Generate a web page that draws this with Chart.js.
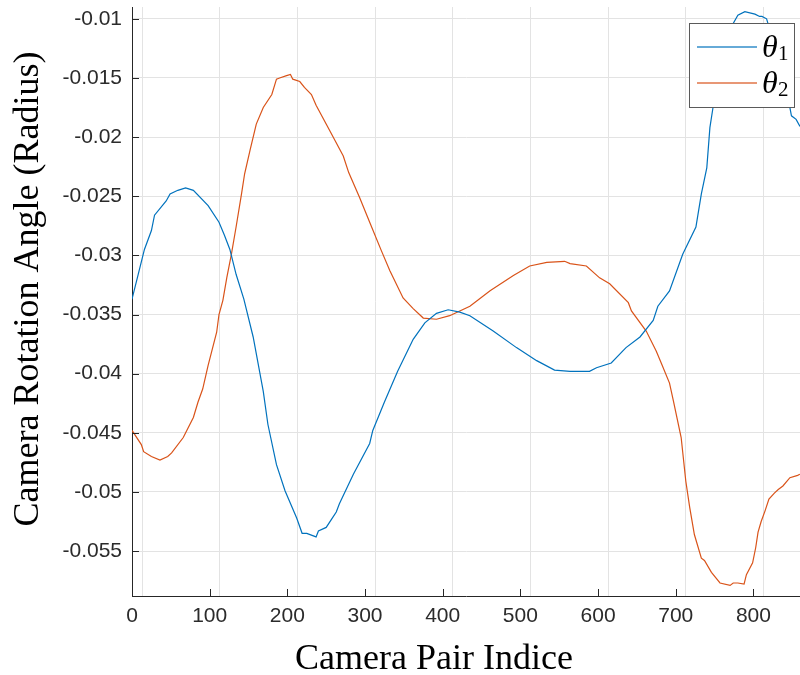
<!DOCTYPE html>
<html>
<head>
<meta charset="utf-8">
<title>Camera Rotation Angle</title>
<script src="https://cdn.jsdelivr.net/npm/chart.js@4.4.1/dist/chart.umd.min.js"></script>
<style>
    html, body { margin: 0; padding: 0; background: #fff; }
    #wrap { width: 800px; height: 675px; position: relative; }
</style>
</head>
<body>
<div id="wrap"><canvas id="myChart"></canvas></div>
<script>
// DATA
const seriesLabels = ['θ1', 'θ2'];
const seriesColors = ['#0072BD', '#D95319'];

const theta1X = [0, 8, 16, 25, 29, 44, 49, 59, 69, 79, 98, 112, 119, 126, 134, 144, 156, 169, 175, 186,
    197, 212, 219, 225, 237, 240, 250, 257, 263, 267, 285, 306, 310, 325, 342, 362, 377, 392, 407, 422,
    435, 465, 495, 521, 544, 564, 589, 598, 617, 636, 654, 671, 677, 692, 709, 726, 733, 740, 744, 748,
    754, 760, 767, 774, 780, 789, 802, 808, 811, 817, 825, 835, 842, 847, 849, 855, 860];
const theta1Y = [-0.0337, -0.0316, -0.0295, -0.0279, -0.0266, -0.0254, -0.0248, -0.0245, -0.0243, -0.0245,
    -0.0258, -0.0272, -0.0283, -0.0295, -0.0316, -0.0337, -0.0369, -0.0415, -0.0443, -0.0477,
    -0.0499, -0.0522, -0.0535, -0.0535, -0.0538, -0.0533, -0.0530, -0.0523, -0.0517, -0.0510,
    -0.0485, -0.0459, -0.0448, -0.0424, -0.0398, -0.0371, -0.0357, -0.0349, -0.0346, -0.0348,
    -0.0351, -0.0364, -0.0378, -0.0389, -0.0397, -0.0398, -0.0398, -0.0395, -0.0391, -0.0378,
    -0.0369, -0.0355, -0.0343, -0.0330, -0.0299, -0.0276, -0.0248, -0.0226, -0.0192, -0.0175,
    -0.0158, -0.0138, -0.0118, -0.0104, -0.0097, -0.0094, -0.0096, -0.0098, -0.0098, -0.0100,
    -0.0118, -0.0145, -0.0165, -0.0175, -0.0182, -0.0185, -0.0191];

const theta2X = [0, 12, 15, 25, 36, 46, 51, 66, 79, 85, 91, 98, 109, 112, 117, 122, 128, 134, 141, 145,
    152, 160, 169, 180, 186, 190, 199, 204, 207, 216, 222, 231, 237, 255, 272, 279, 293, 306, 321, 332,
    349, 362, 375, 392, 409, 435, 461, 491, 512, 534, 557, 564, 585, 602, 615, 639, 643, 662, 675, 682,
    692, 697, 707, 713, 718, 724, 733, 737, 746, 757, 770, 774, 780, 788, 791, 799, 803, 806, 810, 815,
    820, 827, 832, 838, 847, 857, 860];
const theta2Y = [-0.0448, -0.0460, -0.0466, -0.0470, -0.0473, -0.0470, -0.0467, -0.0454, -0.0437, -0.0424,
    -0.0413, -0.0393, -0.0365, -0.0350, -0.0338, -0.0319, -0.0299, -0.0276, -0.0248, -0.0231,
    -0.0211, -0.0189, -0.0175, -0.0164, -0.0151, -0.0150, -0.0148, -0.0147, -0.0151, -0.0153,
    -0.0158, -0.0164, -0.0173, -0.0195, -0.0216, -0.0230, -0.0251, -0.0272, -0.0296, -0.0313,
    -0.0336, -0.0345, -0.0353, -0.0354, -0.0351, -0.0343, -0.0330, -0.0317, -0.0309, -0.0306,
    -0.0305, -0.0307, -0.0309, -0.0319, -0.0324, -0.0340, -0.0347, -0.0364, -0.0381, -0.0392,
    -0.0408, -0.0423, -0.0454, -0.0491, -0.0513, -0.0536, -0.0556, -0.0558, -0.0568, -0.0577,
    -0.0579, -0.0577, -0.0577, -0.0578, -0.0570, -0.0560, -0.0547, -0.0534, -0.0525, -0.0516,
    -0.0506, -0.0501, -0.0498, -0.0495, -0.0488, -0.0486, -0.0485];

// axis ranges and tick steps
const xMin = 0, xMax = 860, xStep = 100;
const yMin = -0.0588, yMax = -0.0090, yStep = 0.005;
const xTitle = 'Camera Pair Indice';
const yTitle = 'Camera Rotation Angle (Radius)';

const axisColor = '#262626';
const gridColor = '#e3e3e3';
const tickFont = { family: '"Liberation Sans", Arial, sans-serif', size: 21 };
const serif = '"Liberation Serif", "Times New Roman", serif';

function toPoints(xs, ys) {
    return xs.map((x, i) => ({ x: x, y: ys[i] }));
}

// the vertical grid lines of the picture sit ~10px right of the ticks
const gridShiftPx = 10;

// inward tick marks, like the original plot
const innerTicks = {
    id: 'innerTicks',
    afterDraw(chart) {
        const { ctx, chartArea } = chart;
        const xs = chart.scales.x, ys = chart.scales.y;
        ctx.save();
        ctx.strokeStyle = axisColor;
        ctx.lineWidth = 1;
        ctx.beginPath();
        xs.ticks.forEach(t => {
            const px = Math.round(xs.getPixelForValue(t.value)) + 0.5;
            ctx.moveTo(px, chartArea.bottom);
            ctx.lineTo(px, chartArea.bottom - 7);
        });
        ys.ticks.forEach(t => {
            const py = Math.round(ys.getPixelForValue(t.value)) + 0.5;
            ctx.moveTo(chartArea.left, py);
            ctx.lineTo(chartArea.left + 7, py);
        });
        ctx.stroke();
        ctx.restore();
    }
};

// axis titles in serif
const axisTitles = {
    id: 'axisTitles',
    afterDraw(chart) {
        const { ctx } = chart;
        ctx.save();
        ctx.fillStyle = '#000';
        ctx.font = '36px ' + serif;
        ctx.textAlign = 'center';
        ctx.textBaseline = 'alphabetic';
        ctx.fillText(xTitle, 434, 669);
        ctx.translate(38, 289);
        ctx.rotate(-Math.PI / 2);
        ctx.fillText(yTitle, 0, 0);
        ctx.restore();
    }
};

// boxed legend with italic theta and subscript number
const thetaLegend = {
    id: 'thetaLegend',
    afterDraw(chart) {
        const { ctx, chartArea } = chart;
        const boxW = 106, boxH = 85;
        const left = Math.round(chartArea.right - 5 - boxW);
        const top = Math.round(chartArea.top + 16);
        ctx.save();
        ctx.fillStyle = '#fff';
        ctx.fillRect(left, top, boxW, boxH);
        ctx.strokeStyle = '#5a5a5a';
        ctx.lineWidth = 1;
        ctx.strokeRect(left + 0.5, top + 0.5, boxW - 1, boxH - 1);
        seriesLabels.forEach((label, i) => {
            const cy = top + 24 + Math.round(i * 35.7);
            ctx.beginPath();
            ctx.strokeStyle = seriesColors[i];
            ctx.globalAlpha = 0.8;
            ctx.lineWidth = 1.6;
            ctx.moveTo(left + 8, cy);
            ctx.lineTo(left + 68, cy);
            ctx.stroke();
            ctx.globalAlpha = 1;
            ctx.fillStyle = '#000';
            ctx.textAlign = 'left';
            ctx.textBaseline = 'alphabetic';
            ctx.font = 'italic 32px ' + serif;
            ctx.fillText(label[0], left + 73, cy + 10);
            ctx.font = '21px ' + serif;
            ctx.fillText(label.slice(1), left + 89, cy + 13);
        });
        ctx.restore();
    }
};

const ctx = document.getElementById('myChart').getContext('2d');

const chart = new Chart(ctx, {
    type: 'line',
    data: {
        datasets: [{
            label: seriesLabels[0],
            data: toPoints(theta1X, theta1Y),
            borderColor: seriesColors[0],
            borderWidth: 1.2,
            pointRadius: 0,
            tension: 0,
        }, {
            label: seriesLabels[1],
            data: toPoints(theta2X, theta2Y),
            borderColor: seriesColors[1],
            borderWidth: 1.2,
            pointRadius: 0,
            tension: 0,
        }],
    },
    options: {
        responsive: true,
        maintainAspectRatio: false,
        animation: false,
        layout: { padding: { top: 7, left: 0, right: 0, bottom: 0 } },
        scales: {
            x: {
                type: 'linear',
                position: 'bottom',
                min: xMin,
                max: xMax,
                grid: { display: false, drawTicks: false },
                border: { display: true, color: axisColor, width: 1 },
                ticks: {
                    stepSize: xStep,
                    includeBounds: false,
                    autoSkip: false,
                    maxRotation: 0,
                    padding: 8,
                    color: '#2b2b2b',
                    font: tickFont,
                },
                afterFit(scale) {
                    scale.height = 79;
                    scale.paddingLeft = 0;
                    scale.paddingRight = 0;
                },
            },
            // grid-only axis, shifted a few pixels to the right
            xg: {
                type: 'linear',
                position: 'top',
                min: xMin - gridShiftPx * (xMax - xMin) / 668,
                max: xMax - gridShiftPx * (xMax - xMin) / 668,
                grid: { color: gridColor, lineWidth: 1, drawTicks: false },
                border: { display: false },
                ticks: { display: false, stepSize: xStep, includeBounds: false },
                afterFit(scale) {
                    scale.height = 0;
                    scale.paddingLeft = 0;
                    scale.paddingRight = 0;
                },
            },
            y: {
                type: 'linear',
                min: yMin,
                max: yMax,
                grid: { color: gridColor, lineWidth: 1, drawTicks: false },
                border: { display: true, color: axisColor, width: 1 },
                ticks: {
                    stepSize: yStep,
                    includeBounds: false,
                    autoSkip: false,
                    padding: 10,
                    color: '#2b2b2b',
                    font: tickFont,
                    callback: (v) => String(Number(v.toFixed(3))),
                },
                afterFit(scale) {
                    scale.width = 132;
                    scale.paddingTop = 0;
                    scale.paddingBottom = 0;
                },
            },
        },
        plugins: {
            legend: { display: false },
            tooltip: { enabled: false },
        },
    },
    plugins: [innerTicks, axisTitles, thetaLegend],
});
</script>
</body>
</html>
